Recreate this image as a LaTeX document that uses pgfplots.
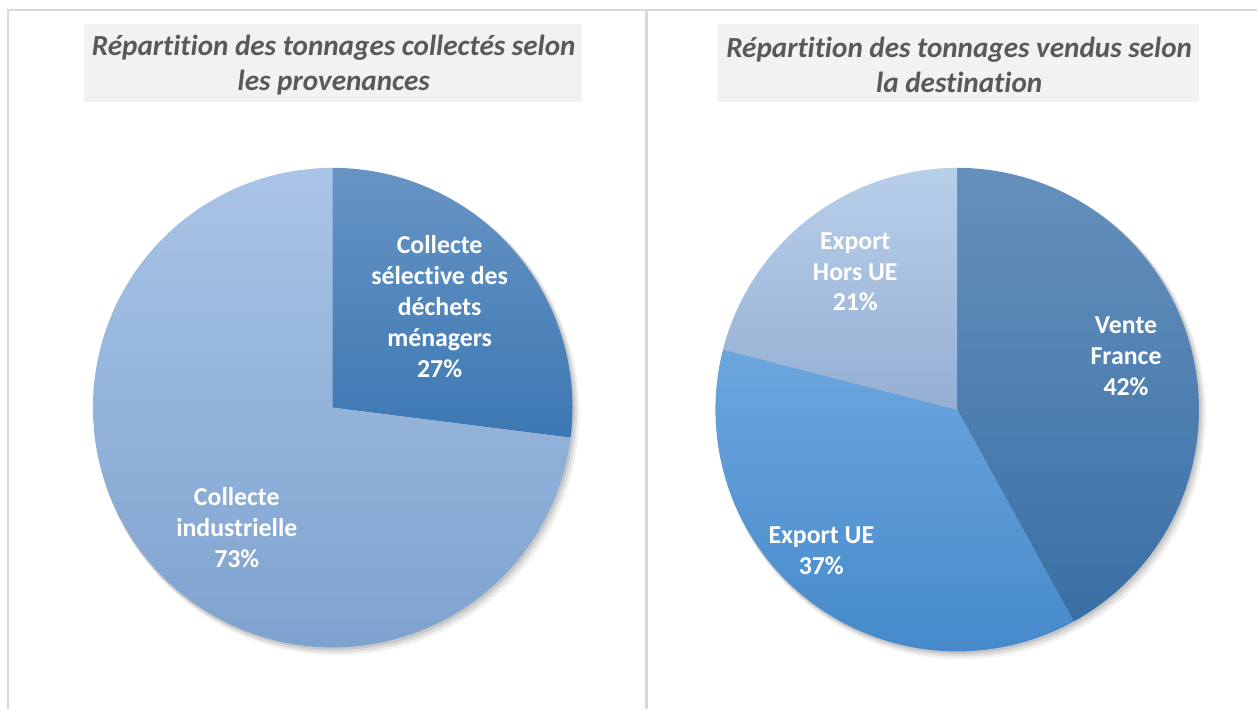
\documentclass[border=0pt]{standalone}
\usepackage{pgfplots}
\pgfplotsset{compat=1.18}
\usepackage{pgfplotstable}
\usepackage{fontspec}
\setmainfont{Carlito}[Ligatures=NoCommon]
\definecolor{bordergray}{HTML}{D9D9D9}
\definecolor{titlebg}{HTML}{F2F2F2}
\definecolor{titletext}{HTML}{595959}
\definecolor{darkA}{HTML}{6794C4}\definecolor{darkB}{HTML}{3D78B3}
\definecolor{lightA}{HTML}{A9C4E6}\definecolor{lightB}{HTML}{7EA2CF}
\definecolor{frA}{HTML}{6590BD}\definecolor{frB}{HTML}{3A6FA5}
\definecolor{ueA}{HTML}{6CA6DE}\definecolor{ueB}{HTML}{468ACB}
\definecolor{hueA}{HTML}{B8CFEA}\definecolor{hueB}{HTML}{95AFD4}

% shares (percent)
\pgfplotstableread{
value
27
73
}\provtable
\pgfplotstableread{
value
42
37
21
}\desttable

\pgfplotstablegetelem{0}{value}\of\provtable \let\pA\pgfplotsretval
\pgfplotstablegetelem{1}{value}\of\provtable \let\pB\pgfplotsretval
\pgfplotstablegetelem{0}{value}\of\desttable \let\dA\pgfplotsretval
\pgfplotstablegetelem{1}{value}\of\desttable \let\dB\pgfplotsretval
\pgfplotstablegetelem{2}{value}\of\desttable \let\dC\pgfplotsretval
% angles (clockwise from 12 o'clock)
\pgfmathsetmacro\Lzero{90}
\pgfmathsetmacro\Lone{90-3.6*\pA}
\pgfmathsetmacro\Ltwo{\Lone-3.6*\pB}
\pgfmathsetmacro\Rzero{90}
\pgfmathsetmacro\Rone{90-3.6*\dA}
\pgfmathsetmacro\Rtwo{\Rone-3.6*\dB}
\pgfmathsetmacro\Rthree{\Rtwo-3.6*\dC}

\begin{document}
\begin{tikzpicture}
\begin{axis}[width=12.58cm, height=7.10cm, scale only axis,
  xmin=0, xmax=1258, ymin=0, ymax=710, hide axis, clip=false]
\path (rel axis cs:0,0) rectangle (rel axis cs:1,1);
% frame
\draw[bordergray, line width=0.6pt] (axis cs:8,0) -- (axis cs:8,700) -- (axis cs:1258,700);
\draw[bordergray, line width=0.6pt] (axis cs:647,0) -- (axis cs:647,700);
% title boxes
\fill[titlebg] (axis cs:84,608) rectangle (axis cs:582,686);
\fill[titlebg] (axis cs:719,608) rectangle (axis cs:1200,686);
\node[align=center, text=titletext, font=\fontsize{8.3}{9.96}\selectfont\bfseries\itshape] at (axis cs:334,645) {Répartition des tonnages collectés selon\\les provenances};
\node[align=center, text=titletext, font=\fontsize{8.3}{9.96}\selectfont\bfseries\itshape] at (axis cs:960,645) {Répartition des tonnages vendus selon\\la destination};

% ---- left pie: centre (333,302), r=240 ; soft shadow
\addplot[draw=none, fill=black, opacity=0.10, domain=0:360, samples=120, forget plot]
  ({334.5+240.8*cos(x)},{300.2+240.8*sin(x)}) -- cycle;
\addplot[draw=none, fill=black, opacity=0.08, domain=0:360, samples=120, forget plot]
  ({336+241.6*cos(x)},{298.4+241.6*sin(x)}) -- cycle;
\addplot[draw=none, fill=black, opacity=0.06, domain=0:360, samples=120, forget plot]
  ({337.5+242.4*cos(x)},{296.6+242.4*sin(x)}) -- cycle;
\addplot[draw=none, top color=darkA, bottom color=darkB, domain=\Lone:\Lzero, samples=80]
  ({333+240*cos(x)},{302+240*sin(x)}) -- (axis cs:333,302) -- cycle;
\addplot[draw=none, top color=lightA, bottom color=lightB, domain=\Ltwo:\Lone, samples=160]
  ({333+240*cos(x)},{302+240*sin(x)}) -- (axis cs:333,302) -- cycle;

% ---- right pie: centre (958,300), r=242 ; soft shadow
\addplot[draw=none, fill=black, opacity=0.10, domain=0:360, samples=120, forget plot]
  ({959.5+242.8*cos(x)},{298.2+242.8*sin(x)}) -- cycle;
\addplot[draw=none, fill=black, opacity=0.08, domain=0:360, samples=120, forget plot]
  ({961+243.6*cos(x)},{296.4+243.6*sin(x)}) -- cycle;
\addplot[draw=none, fill=black, opacity=0.06, domain=0:360, samples=120, forget plot]
  ({962.5+244.4*cos(x)},{294.6+244.4*sin(x)}) -- cycle;
\addplot[draw=none, top color=frA, bottom color=frB, domain=\Rone:\Rzero, samples=100]
  ({958+242*cos(x)},{300+242*sin(x)}) -- (axis cs:958,300) -- cycle;
\addplot[draw=none, top color=ueA, bottom color=ueB, domain=\Rtwo:\Rone, samples=100]
  ({958+242*cos(x)},{300+242*sin(x)}) -- (axis cs:958,300) -- cycle;
\addplot[draw=none, top color=hueA, bottom color=hueB, domain=\Rthree:\Rtwo, samples=80]
  ({958+242*cos(x)},{300+242*sin(x)}) -- (axis cs:958,300) -- cycle;

% labels
\tikzset{lbl/.style={align=center, text=white, font=\fontsize{7.35}{8.82}\selectfont\bfseries}}
\node[lbl] at (axis cs:440,403) {Collecte\\sélective des\\déchets\\ménagers\\27\%};
\node[lbl] at (axis cs:237,182) {Collecte\\industrielle\\73\%};
\node[lbl] at (axis cs:1127,353) {Vente\\France\\42\%};
\node[lbl] at (axis cs:822,159) {Export UE\\37\%};
\node[lbl] at (axis cs:856,438) {Export\\Hors UE\\21\%};
\end{axis}
\end{tikzpicture}
\end{document}
